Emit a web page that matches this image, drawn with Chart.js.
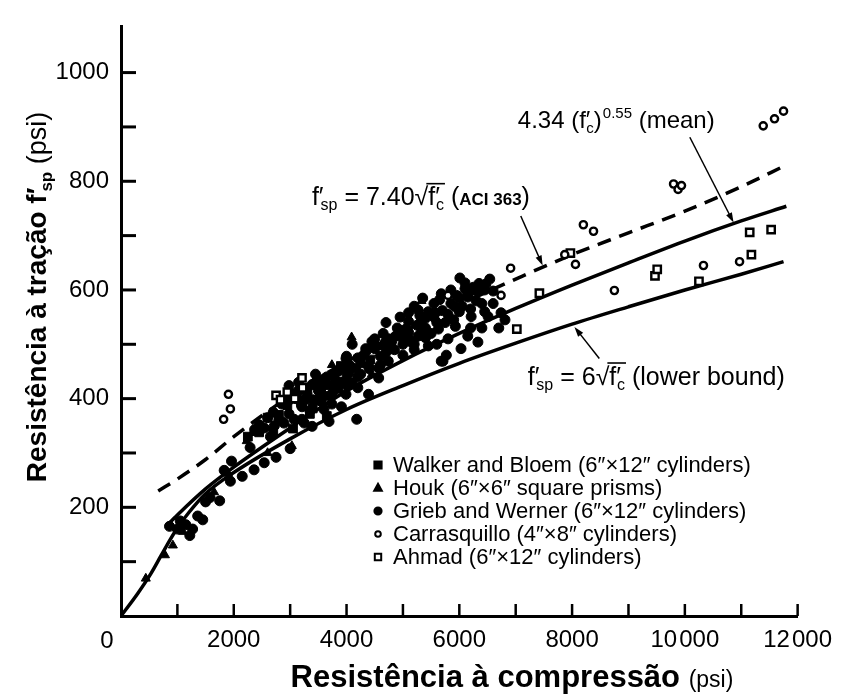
<!DOCTYPE html>
<html>
<head>
<meta charset="utf-8">
<title>Resistência à tração × compressão</title>
<script src="https://cdn.jsdelivr.net/npm/chart.js@4.4.1/dist/chart.umd.min.js"></script>
<style>
  html, body { margin: 0; padding: 0; background: #fff; }
  #wrap { width: 842px; height: 694px; }
</style>
</head>
<body>
<div id="wrap"><canvas id="c" width="842" height="694"></canvas></div>
<script>
// ---- tick labels ----
const xTickValues = [2000, 4000, 6000, 8000, 10000, 12000];
const xTickLabels = ['2000', '4000', '6000', '8000', '10\u200A000', '12\u200A000'];
const yTickValues = [200, 400, 600, 800, 1000];
const yTickLabels = ['200', '400', '600', '800', '1000'];

// ---- series: compressive strength f'c (psi) / splitting tensile strength f'sp (psi) ----
const walkerFc  = [2250, 2450, 2600, 2800, 2950, 3100, 3250, 3400, 3550, 3700, 3850, 4000, 4250, 4420, 3050, 3350, 3650, 2700, 4100, 3900];
const walkerFsp = [330, 338, 365, 370, 388, 410, 398, 382, 412, 425, 418, 440, 465, 472, 345, 372, 368, 340, 430, 460];

const houkFc  = [440, 780, 920, 1100, 1650, 1900, 2230, 2330, 2600, 2900, 3030, 3300, 3740, 4090, 4450, 5330];
const houkFsp = [69, 112, 130, 155, 228, 262, 322, 337, 300, 356, 313, 402, 462, 513, 445, 580];

const griebFc = [
  860, 1000, 1050, 1150, 1220, 1270, 1360, 1450, 1500, 1580, 1750, 1830, 1940, 1960, 2150, 2290, 2360, 2540, 2750, 3000,
  2370, 2540, 2720, 2890, 3070, 3250,
  2980, 3390, 3560, 3900, 4040, 4160, 4390, 4520, 4690, 4870, 4340, 4570, 4390, 4180, 3910, 3740, 3460, 3210, 2980, 2800,
  3210, 3390, 3690, 3990, 2980, 3500, 3810, 3990, 4570, 4740, 4600, 4200, 3600, 3300, 3100, 4000, 3850, 3650, 3150, 3450,
  4300, 4450, 4100, 3700, 3550, 4850, 4650,
  4750, 5000, 5050, 5100, 5100, 5100, 5150, 5200, 5270, 5270, 5330, 5330, 5400, 5450, 5500, 5550, 5570, 5630, 5680, 5680,
  5710, 5770, 5800, 5850, 5900, 5930, 5930, 6010, 6030, 6100, 6100, 6150, 6150, 6210, 6250, 6300, 6330, 6400, 6470, 6510,
  6540, 6600, 6700, 6740, 6810, 4900, 4700, 4500, 4950, 5200, 5350, 5450, 5750, 6050, 6200, 5600, 6450,
  2600, 2700, 2850, 3000, 3150, 3300, 3450, 3600, 3750, 3900, 4050, 4200, 4350, 4500, 4650, 4800, 4950, 5100, 5250, 5400,
  5550, 5700, 5850, 6000, 6150, 6300, 6450, 6600, 3200, 3400, 3600, 3800, 4000, 4200, 4400, 4600, 4800, 5000, 5200, 5400,
  5600, 5800, 6000, 6200, 6400, 2450, 2650, 3350, 3750, 4250, 4700, 5300, 5650, 5950, 6350
];
const griebFsp = [
  165, 160, 175, 168, 148, 160, 184, 177, 210, 218, 212, 268, 248, 285, 257, 310, 269, 282, 292, 308,
  343, 346, 350, 355, 362, 355,
  424, 426, 426, 430, 447, 456, 460, 497, 504, 515, 492, 456, 408, 362, 385, 390, 397, 385, 372, 362,
  362, 349, 358, 408, 397, 415, 433, 474, 438, 469, 462, 420, 380, 410, 400, 478, 450, 440, 430, 445,
  480, 505, 500, 405, 395, 490, 520,
  510, 480, 528, 542, 558, 510, 504, 490, 515, 563, 545, 522, 530, 497, 520, 575, 558, 528, 593, 469,
  469, 480, 510, 600, 545, 569, 533, 622, 492, 602, 613, 587, 515, 551, 605, 580, 504, 530, 611, 551,
  620, 575, 530, 558, 545, 530, 540, 510, 550, 570, 585, 560, 540, 570, 530, 500, 560,
  365, 375, 390, 402, 415, 418, 430, 436, 443, 455, 462, 475, 488, 492, 498, 505, 515, 522, 535, 548,
  550, 562, 575, 585, 592, 598, 600, 598, 388, 398, 405, 420, 425, 440, 455, 478, 492, 500, 500, 512,
  540, 555, 560, 565, 575, 352, 330, 378, 410, 445, 485, 553, 582, 590, 612
];

const carrasFc  = [1820, 1905, 1940, 6910, 6740, 7870, 8060, 8200, 8380, 8750, 9800, 9880, 9940, 10330, 10970, 11390, 11590, 11750, 5800];
const carrasFsp = [362, 408, 381, 640, 590, 665, 647, 720, 708, 599, 795, 785, 792, 645, 652, 902, 915, 929, 590];

const ahmadFc  = [2750, 2830, 2950, 3080, 3210, 3220, 7020, 7420, 7970, 9470, 9510, 10250, 11180, 11150, 11530];
const ahmadFsp = [406, 398, 412, 400, 438, 420, 528, 594, 668, 626, 638, 616, 665, 706, 711];

// ---- fitted curves ----
const lowerFc  = [0, 300, 530, 705, 880, 1000, 1200, 1500, 2000, 3000, 4000, 5000, 6000, 7000, 8000, 9000, 10000, 11000, 11750];
const lowerFsp = [0, 42, 78, 110, 142, 162, 190, 225, 264, 326, 380, 424, 465, 502, 537, 569, 600, 629, 652];
const meanFc   = [800, 1000, 1500, 2000, 3000, 4000, 5000, 6000, 7000, 8000, 9000, 10000, 11000, 11800];
const meanFsp  = [165, 186, 234, 274, 346, 414, 470, 520, 566, 609, 650, 690, 727, 754];
const aciFc    = [660, 1000, 1500, 2000, 3000, 4000, 5000, 6000, 7000, 8000, 9000, 10000, 11000, 11800];
const aciFsp   = [230, 252, 288, 330, 405, 468, 523, 573, 620, 665, 705, 745, 790, 830];

// ---- drawing helpers ----
const SANS = "'Liberation Sans', Arial, 'DejaVu Sans', sans-serif";
const font = (size, bold) => (bold ? 'bold ' : '') + size + 'px ' + SANS;
const pts = (xs, ys) => xs.map((x, i) => ({ x, y: ys[i] }));

// draw (or just measure) a run of text pieces with sub/superscripts and a radical bar
function drawRuns(ctx, x, y, runs, measureOnly) {
  let cx = x, barStart = null, barEnd = null, barSize = 24;
  for (const r of runs) {
    ctx.font = r.f;
    cx += r.dx || 0;
    const w = ctx.measureText(r.t).width;
    if (!measureOnly) ctx.fillText(r.t, cx, y + (r.dy || 0));
    if (r.bar) {
      if (barStart === null) barStart = cx;
      barEnd = cx + w;
      barSize = r.size || barSize;
    }
    cx += w;
  }
  if (!measureOnly && barStart !== null) {
    ctx.save();
    ctx.lineWidth = 1.6;
    ctx.beginPath();
    const by = y - 0.86 * barSize;
    ctx.moveTo(barStart - 2, by);
    ctx.lineTo(barEnd + 1, by);
    ctx.stroke();
    ctx.restore();
  }
  return cx - x;
}

function arrow(ctx, x1, y1, x2, y2) {
  const ang = Math.atan2(y2 - y1, x2 - x1);
  const hl = 10, hw = 3.2;
  ctx.save();
  ctx.lineWidth = 1.5;
  ctx.beginPath();
  ctx.moveTo(x1, y1);
  ctx.lineTo(x2 - Math.cos(ang) * hl * 0.6, y2 - Math.sin(ang) * hl * 0.6);
  ctx.stroke();
  ctx.translate(x2, y2);
  ctx.rotate(ang);
  ctx.beginPath();
  ctx.moveTo(0, 0);
  ctx.lineTo(-hl, hw);
  ctx.lineTo(-hl, -hw);
  ctx.closePath();
  ctx.fill();
  ctx.restore();
}

function marker(ctx, style, x, y, s, filled) {
  ctx.save();
  ctx.lineWidth = 2;
  ctx.beginPath();
  if (style === 'circle') ctx.arc(x, y, s, 0, Math.PI * 2);
  else if (style === 'rect') ctx.rect(x - s, y - s, 2 * s, 2 * s);
  else if (style === 'triangle') { ctx.moveTo(x, y - s * 1.1); ctx.lineTo(x + s, y + s * 0.7); ctx.lineTo(x - s, y + s * 0.7); ctx.closePath(); }
  ctx.fillStyle = filled ? '#000' : '#fff';
  ctx.fill();
  ctx.stroke();
  ctx.restore();
}

const R25 = font(25), R24 = font(24), S15 = font(15), S16 = font(16), B17 = font(17, true);
const notes = [
  { at: [7037, 898], runs: [
    { t: '4.34 (f\u2032', f: R24 }, { t: 'c', f: S15, dy: 5, dx: -4 }, { t: ')', f: R24 },
    { t: '0.55', f: S15, dy: -10, dx: 1 }, { t: ' (mean)', f: R24 } ] },
  { at: [3386, 756], runs: [
    { t: 'f\u2032', f: R25 }, { t: 'sp', f: S16, dy: 5, dx: -3 }, { t: ' = 7.40', f: R25 },
    { t: '\u221A', f: R25 }, { t: 'f\u2032', f: R25, bar: true, size: 25 }, { t: 'c', f: S16, dy: 5, dx: -4, bar: true },
    { t: ' (', f: R25 }, { t: 'ACI 363', f: B17 }, { t: ')', f: R25 } ] },
  { at: [7213, 426], runs: [
    { t: 'f\u2032', f: R25 }, { t: 'sp', f: S16, dy: 5, dx: -3 }, { t: ' = 6', f: R25 },
    { t: '\u221A', f: R25 }, { t: 'f\u2032', f: R25, bar: true, size: 25 }, { t: 'c', f: S16, dy: 5, dx: -4, bar: true },
    { t: ' (lower bound)', f: R25 } ] }
];
const arrows = [
  { from: [10088, 881], to: [10864, 724] },
  { from: [7090, 736], to: [7478, 645] },
  { from: [8483, 474], to: [8042, 532] }
];

const legendRows = [
  { label: 'Walker and Bloem (6\u2033\u00D712\u2033 cylinders)', style: 'rect', s: 3.6, filled: true },
  { label: 'Houk (6\u2033\u00D76\u2033 square prisms)', style: 'triangle', s: 3.8, filled: true },
  { label: 'Grieb and Werner (6\u2033\u00D712\u2033 cylinders)', style: 'circle', s: 3.6, filled: true },
  { label: 'Carrasquillo (4\u2033\u00D78\u2033 cylinders)', style: 'circle', s: 2.8, filled: false },
  { label: 'Ahmad (6\u2033\u00D712\u2033 cylinders)', style: 'rect', s: 3.2, filled: false }
];

const decorations = {
  id: 'decorations',
  beforeDraw(chart) {
    const ctx = chart.ctx;
    ctx.save();
    ctx.fillStyle = '#fff';
    ctx.fillRect(0, 0, chart.width, chart.height);
    ctx.restore();
  },
  afterDraw(chart) {
    const { ctx, chartArea: a, scales: { x, y } } = chart;
    ctx.save();
    ctx.fillStyle = '#000';
    ctx.strokeStyle = '#000';
    ctx.textBaseline = 'alphabetic';
    ctx.textAlign = 'left';

    // inward tick marks
    ctx.lineWidth = 2.5;
    x.ticks.forEach(t => {
      if (t.value <= 0) return;
      const px = x.getPixelForValue(t.value);
      ctx.beginPath(); ctx.moveTo(px, a.bottom); ctx.lineTo(px, a.bottom - 12); ctx.stroke();
    });
    ctx.lineWidth = 3;
    y.ticks.forEach(t => {
      if (t.value <= 0 || t.value > 1000) return;
      const py = y.getPixelForValue(t.value);
      ctx.beginPath(); ctx.moveTo(a.left, py); ctx.lineTo(a.left + 15, py); ctx.stroke();
    });

    // shared origin label
    ctx.font = font(24);
    ctx.textAlign = 'center';
    ctx.fillText('0', x.getPixelForValue(0) - 14, a.bottom + 32);
    ctx.textAlign = 'left';

    // x axis title
    const xTitle = [{ t: 'Resistência à compressão ', f: font(31, true) }, { t: '(psi)', f: font(23) }];
    const xw = drawRuns(ctx, 0, 0, xTitle, true);
    drawRuns(ctx, 512 - xw / 2, 687, xTitle);

    // y axis title
    const yTitle = [
      { t: 'Resistência à tração ', f: font(28, true) }, { t: 'f\u2032', f: font(28, true) },
      { t: 'sp', f: font(17, true), dy: 6, dx: -4 }, { t: ' (psi)', f: font(27) }
    ];
    const yw = drawRuns(ctx, 0, 0, yTitle, true);
    ctx.save();
    ctx.translate(46, 297 + yw / 2);
    ctx.rotate(-Math.PI / 2);
    drawRuns(ctx, 0, 0, yTitle);
    ctx.restore();

    // curve annotations
    notes.forEach(n => drawRuns(ctx, x.getPixelForValue(n.at[0]), y.getPixelForValue(n.at[1]), n.runs));
    arrows.forEach(r => arrow(ctx,
      x.getPixelForValue(r.from[0]), y.getPixelForValue(r.from[1]),
      x.getPixelForValue(r.to[0]), y.getPixelForValue(r.to[1])));

    // legend
    ctx.font = font(22);
    legendRows.forEach((row, i) => {
      const base = 472 + i * 23;
      marker(ctx, row.style, 378, base - 7, row.s, row.filled);
      ctx.fillStyle = '#000';
      ctx.fillText(row.label, 393, base);
    });
    ctx.restore();
  }
};

const tickFor = (vals, labels) => v => {
  const i = vals.indexOf(v);
  return i >= 0 ? labels[i] : '';
};

const scatterSet = (label, xs, ys, style, radius, filled, bw) => ({
  label, data: pts(xs, ys), pointStyle: style, pointRadius: radius,
  backgroundColor: filled ? '#000' : '#fff', borderColor: '#000', borderWidth: bw, showLine: false
});
const curveSet = (label, xs, ys, dash) => ({
  label, data: pts(xs, ys), showLine: true, pointRadius: 0, borderColor: '#000', borderWidth: 3.5,
  borderDash: dash, fill: false, cubicInterpolationMode: 'monotone'
});

new Chart(document.getElementById('c'), {
  type: 'scatter',
  data: {
    datasets: [
      scatterSet('Carrasquillo (4″×8″ cylinders)', carrasFc, carrasFsp, 'circle', 3.6, false, 2.4),
      scatterSet('Ahmad (6″×12″ cylinders)', ahmadFc, ahmadFsp, 'rect', 5.2, false, 2.4),
      scatterSet('Walker and Bloem (6″×12″ cylinders)', walkerFc, walkerFsp, 'rect', 6.2, true, 1),
      scatterSet('Houk (6″×6″ square prisms)', houkFc, houkFsp, 'triangle', 5.2, true, 1),
      scatterSet('Grieb and Werner (6″×12″ cylinders)', griebFc, griebFsp, 'circle', 5, true, 1),
      curveSet('7.40√f′c (ACI 363)', aciFc, aciFsp, [14, 9]),
      curveSet('4.34 (f′c)^0.55 (mean)', meanFc, meanFsp, []),
      curveSet('6√f′c (lower bound)', lowerFc, lowerFsp, [])
    ]
  },
  options: {
    responsive: false,
    animation: false,
    devicePixelRatio: 1,
    events: [],
    layout: { padding: { top: 8, right: 40, bottom: 0, left: 0 } },
    plugins: { legend: { display: false }, tooltip: { enabled: false }, title: { display: false } },
    scales: {
      x: {
        type: 'linear', min: 0, max: 12000,
        afterFit(s) { s.height = 78; },
        grid: { display: false, drawTicks: false },
        border: { display: true, color: '#000', width: 3 },
        ticks: { stepSize: 1000, autoSkip: false, maxRotation: 0, padding: 10, color: '#000',
                 font: { family: SANS, size: 24 }, callback: tickFor(xTickValues, xTickLabels) }
      },
      y: {
        type: 'linear', min: 0, max: 1085,
        afterFit(s) { s.width = 121; },
        grid: { display: false, drawTicks: false },
        border: { display: true, color: '#000', width: 3 },
        ticks: { stepSize: 100, autoSkip: false, padding: 12, color: '#000',
                 font: { family: SANS, size: 24 }, callback: tickFor(yTickValues, yTickLabels) }
      }
    }
  },
  plugins: [decorations]
});
</script>
</body>
</html>
